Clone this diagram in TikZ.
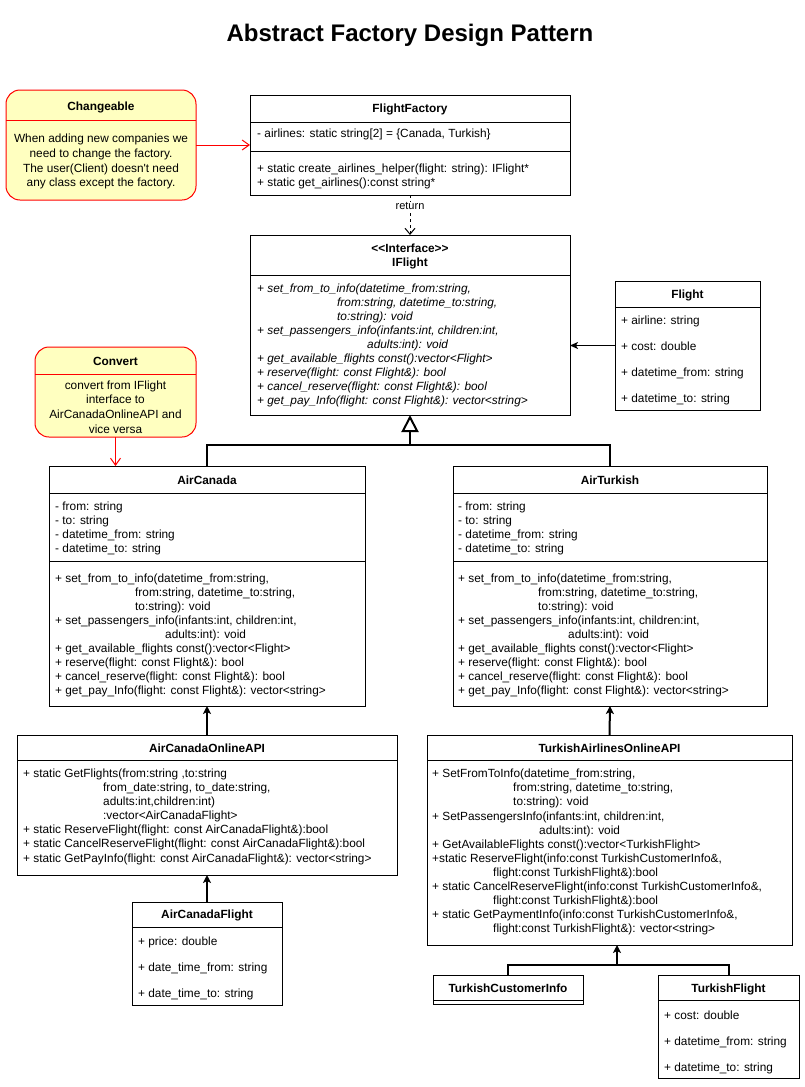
\documentclass[tikz,border=0pt]{standalone}
\usepackage{fontspec}
\setmainfont{Liberation Sans}
\usetikzlibrary{arrows.meta}
\definecolor{notefill}{HTML}{FFFFC0}
\definecolor{notered}{HTML}{FF0000}
\newcounter{umltn}
\newcommand\umlfs{\fontsize{11.85}{14}\selectfont}
\newcommand\umlline[3]{\stepcounter{umltn}\node[ln] (t\theumltn) at (#1,#2) {#3};}
\newcommand\umlit[3]{\stepcounter{umltn}\node[ln,font=\umlfs\itshape] (t\theumltn) at (#1,#2) {#3};}
\newcommand\umlhead[3]{\stepcounter{umltn}\node[hd] (t\theumltn) at (#1,#2) {#3};}
\newcommand\umlctr[3]{\stepcounter{umltn}\node[ct] (t\theumltn) at (#1,#2) {#3};}
\newcommand\umlsep[3]{\draw[sepline] (#1,#3) -- (#2,#3);}
\begin{document}
\begin{tikzpicture}[x=1pt,y=-1pt,
  box/.style={draw=black, line width=1pt, fill=white, inner sep=0pt, outer sep=0pt},
  note/.style={draw=notered, line width=1pt, fill=notefill, rounded corners=14pt, inner sep=0pt, outer sep=0pt},
  ln/.style={font=\umlfs, inner sep=0pt, anchor=west, text height=8.6pt, text depth=0pt},
  hd/.style={ln, anchor=center, font=\umlfs\bfseries},
  ct/.style={ln, anchor=center},
  sepline/.style={draw=black, line width=1pt},
  redsep/.style={draw=notered, line width=1pt},
  redarr/.style={draw=notered, line width=1pt, -{Straight Barb[length=7pt,width=10pt]}},
  retarr/.style={draw=black, line width=1pt, dash pattern=on 3pt off 3pt, -{Straight Barb[length=6pt,width=10pt]}},
  fillarr/.style={draw=black, line width=1pt, -{Stealth[length=8pt,width=7pt,inset=2pt]}},
  inh/.style={draw=black, line width=2pt, -{Triangle[open,length=17pt,width=17pt]}},
  thk/.style={draw=black, line width=2pt},
  thkarr/.style={thk, -{Stealth[length=8pt,width=8pt,inset=2pt]}}
]
\fill[white] (0,0) rectangle (804,1087);
\useasboundingbox (0,0) rectangle (804,1087);

% title
\node[font=\fontsize{24}{28}\selectfont\bfseries, inner sep=0pt] (title) at (410,35) {Abstract Factory Design Pattern};

% boxes
\node[note, minimum width=190pt, minimum height=110pt] (chg) at (101,145) {};
\node[note, minimum width=161pt, minimum height=90pt] (cnv) at (115.5,392) {};
\node[box, minimum width=320pt, minimum height=100pt] (ff) at (410,145) {};
\node[box, minimum width=320pt, minimum height=180pt] (ifl) at (410,325) {};
\node[box, minimum width=145pt, minimum height=129pt] (fl) at (687.5,345.5) {};
\node[box, minimum width=316pt, minimum height=240pt] (ac) at (207,586) {};
\node[box, minimum width=314pt, minimum height=240pt] (at) at (610,586) {};
\node[box, minimum width=380pt, minimum height=140pt] (acapi) at (207,805) {};
\node[box, minimum width=365pt, minimum height=210pt] (tapi) at (609.5,840) {};
\node[box, minimum width=150pt, minimum height=103pt] (acf) at (207,953.5) {};
\node[box, minimum width=150pt, minimum height=29pt] (tci) at (508,989.5) {};
\node[box, minimum width=141pt, minimum height=103pt] (tf) at (728.5,1026.5) {};

% Changeable note
\draw[redsep] (6,120) -- (196,120);
\umlhead{101}{106}{Changeable}
\umlctr{101}{138}{When adding new companies we}
\umlctr{101}{153}{need to change the factory.}
\umlctr{101}{168}{The user(Client) doesn\textquotesingle t need}
\umlctr{101}{182}{any class except the factory.}

% Convert note
\draw[redsep] (35,374) -- (196,374);
\umlhead{115.5}{361}{Convert}
\umlctr{115.5}{385}{convert from IFlight}
\umlctr{115.5}{399}{interface to}
\umlctr{115.5}{414}{AirCanadaOnlineAPI and}
\umlctr{115.5}{429}{vice versa}

% FlightFactory
\umlhead{410}{108}{FlightFactory}
\umlsep{250}{570}{122}
\umlline{257}{133}{- airlines: static string[2] = \{Canada, Turkish\}}
\umlsep{250}{570}{151}
\umlline{257}{168}{+ static create\_airlines\_helper(flight: string): IFlight*}
\umlline{257}{182}{+ static get\_airlines():const string*}

% IFlight
\umlhead{410}{248}{<{}<Interface>{}>}
\umlhead{410}{262}{IFlight}
\umlsep{250}{570}{275}
\umlit{257}{288}{+ set\_from\_to\_info(datetime\_from:string,}
\umlit{337}{302}{from:string, datetime\_to:string,}
\umlit{337}{316}{to:string): void}
\umlit{257}{330}{+ set\_passengers\_info(infants:int, children:int,}
\umlit{367}{344}{adults:int): void}
\umlit{257}{358}{+ get\_available\_flights const():vector<Flight>}
\umlit{257}{372}{+ reserve(flight: const Flight\&): bool}
\umlit{257}{386}{+ cancel\_reserve(flight: const Flight\&): bool}
\umlit{257}{400}{+ get\_pay\_Info(flight: const Flight\&): vector<string>}

% Flight
\umlhead{687.5}{294}{Flight}
\umlsep{615}{760}{307}
\umlline{621}{320}{+ airline: string}
\umlline{621}{346}{+ cost: double}
\umlline{621}{372}{+ datetime\_from: string}
\umlline{621}{398}{+ datetime\_to: string}

% AirCanada
\umlhead{207}{480}{AirCanada}
\umlsep{49}{365}{493}
\umlline{55}{506}{- from: string}
\umlline{55}{520}{- to: string}
\umlline{55}{534}{- datetime\_from: string}
\umlline{55}{548}{- datetime\_to: string}
\umlsep{49}{365}{561}
\umlline{55}{578}{+ set\_from\_to\_info(datetime\_from:string,}
\umlline{135}{592}{from:string, datetime\_to:string,}
\umlline{135}{606}{to:string): void}
\umlline{55}{620}{+ set\_passengers\_info(infants:int, children:int,}
\umlline{165}{634}{adults:int): void}
\umlline{55}{648}{+ get\_available\_flights const():vector<Flight>}
\umlline{55}{662}{+ reserve(flight: const Flight\&): bool}
\umlline{55}{676}{+ cancel\_reserve(flight: const Flight\&): bool}
\umlline{55}{690}{+ get\_pay\_Info(flight: const Flight\&): vector<string>}

% AirTurkish
\umlhead{610}{480}{AirTurkish}
\umlsep{453}{767}{493}
\umlline{458}{506}{- from: string}
\umlline{458}{520}{- to: string}
\umlline{458}{534}{- datetime\_from: string}
\umlline{458}{548}{- datetime\_to: string}
\umlsep{453}{767}{561}
\umlline{458}{578}{+ set\_from\_to\_info(datetime\_from:string,}
\umlline{538}{592}{from:string, datetime\_to:string,}
\umlline{538}{606}{to:string): void}
\umlline{458}{620}{+ set\_passengers\_info(infants:int, children:int,}
\umlline{568}{634}{adults:int): void}
\umlline{458}{648}{+ get\_available\_flights const():vector<Flight>}
\umlline{458}{662}{+ reserve(flight: const Flight\&): bool}
\umlline{458}{676}{+ cancel\_reserve(flight: const Flight\&): bool}
\umlline{458}{690}{+ get\_pay\_Info(flight: const Flight\&): vector<string>}

% AirCanadaOnlineAPI
\umlhead{207}{748}{AirCanadaOnlineAPI}
\umlsep{17}{397}{760}
\umlline{23}{773}{+ static GetFlights(from:string ,to:string}
\umlline{103}{787}{from\_date:string, to\_date:string,}
\umlline{103}{801}{adults:int,children:int)}
\umlline{103}{815}{:vector<AirCanadaFlight>}
\umlline{23}{829}{+ static ReserveFlight(flight: const AirCanadaFlight\&):bool}
\umlline{23}{843}{+ static CancelReserveFlight(flight: const AirCanadaFlight\&):bool}
\umlline{23}{858}{+ static GetPayInfo(flight: const AirCanadaFlight\&): vector<string>}

% TurkishAirlinesOnlineAPI
\umlhead{609.5}{748}{TurkishAirlinesOnlineAPI}
\umlsep{427}{792}{760}
\umlline{432}{773}{+ SetFromToInfo(datetime\_from:string,}
\umlline{513}{787}{from:string, datetime\_to:string,}
\umlline{513}{801}{to:string): void}
\umlline{432}{816}{+ SetPassengersInfo(infants:int, children:int,}
\umlline{539}{830}{adults:int): void}
\umlline{432}{844}{+ GetAvailableFlights const():vector<TurkishFlight>}
\umlline{432}{858}{+static ReserveFlight(info:const TurkishCustomerInfo\&,}
\umlline{493}{872}{flight:const TurkishFlight\&):bool}
\umlline{432}{886}{+ static CancelReserveFlight(info:const TurkishCustomerInfo\&,}
\umlline{493}{900}{flight:const TurkishFlight\&):bool}
\umlline{432}{914}{+ static GetPaymentInfo(info:const TurkishCustomerInfo\&,}
\umlline{493}{928}{flight:const TurkishFlight\&): vector<string>}

% AirCanadaFlight
\umlhead{207}{914}{AirCanadaFlight}
\umlsep{132}{282}{927}
\umlline{138}{941}{+ price: double}
\umlline{138}{967}{+ date\_time\_from: string}
\umlline{138}{993}{+ date\_time\_to: string}

% TurkishCustomerInfo
\umlhead{508}{988}{TurkishCustomerInfo}
\umlsep{433}{583}{1000}

% TurkishFlight
\umlhead{728.5}{988}{TurkishFlight}
\umlsep{658}{799}{1000}
\umlline{664}{1015}{+ cost: double}
\umlline{664}{1041}{+ datetime\_from: string}
\umlline{664}{1067}{+ datetime\_to: string}

% connectors
\draw[redarr] (chg.east) -- (ff.west);
\draw[redarr] (cnv.south) -- (cnv.south |- ac.north);
\draw[retarr] (ff.south) -- node[pos=0.28, fill=white, inner sep=1pt, font=\fontsize{11}{12}\selectfont] (retlbl) {return} (ifl.north);
\draw[fillarr] (fl.west) -- (ifl.east |- fl.west);
\coordinate (jn) at (410,445);
\draw[thk] (at.north) |- (jn);
\draw[inh] (ac.north) |- (jn) -- (ifl.south);
\draw[thkarr] (acapi.north) -- (ac.south);
\draw[thkarr] (tapi.north) -- (at.south);
\draw[thkarr] (acf.north) -- (acapi.south);
\coordinate (jt) at (617,965);
\draw[thk] (tci.north) |- (jt) -| (tf.north);
\draw[thkarr] (jt) -- (jt |- tapi.south);
\end{tikzpicture}
\end{document}
